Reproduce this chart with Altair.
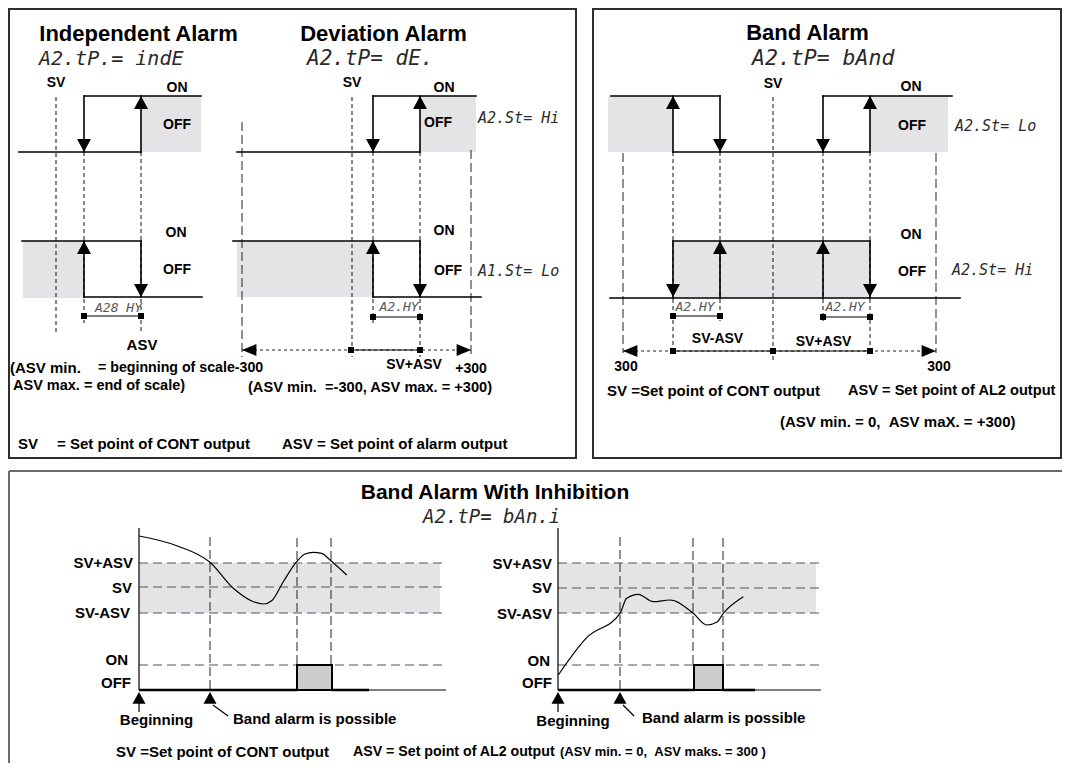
import altair as alt
import pandas as pd

NB = "\u00a0"

# ---------------- data (image pixel coordinates) ----------------
box_rects = [(9, 9, 576, 458), (593, 9, 1061, 458)]
box3_lines = [(9, 471, 1070, 471), (9, 471, 9, 771)]

gray_rects = [
    (141, 96, 201, 152), (23, 241, 84, 298),
    (420, 96, 476, 152), (237, 241, 373, 297),
    (608, 96, 673, 152), (870, 96, 948, 152), (673, 241, 870, 298),
    (139, 563, 440, 613), (558, 563, 816, 613),
]
pulse_rects = [(297, 665, 332, 690), (694, 665, 723, 690)]

step_lines = [
    (19, 152, 141, 152), (141, 152, 141, 96), (84, 96, 201, 96), (84, 96, 84, 152),
    (22, 241, 141, 241), (141, 241, 141, 297), (84, 297, 202, 297), (84, 297, 84, 241),
    (237, 152, 420, 152), (420, 152, 420, 96), (373, 96, 476, 96), (373, 96, 373, 152),
    (233, 241, 420, 241), (420, 241, 420, 297), (373, 297, 481, 297), (373, 297, 373, 241),
    (611, 96, 720, 96), (673, 96, 673, 152), (720, 96, 720, 152), (673, 152, 870, 152),
    (823, 96, 823, 152), (870, 96, 870, 152), (823, 96, 952, 96),
    (673, 241, 870, 241), (610, 298, 960, 298), (673, 241, 673, 298),
    (720, 241, 720, 298), (823, 241, 823, 298), (870, 241, 870, 298),
]
thin_lines = [
    (84, 316, 141, 316), (373, 317, 420, 317), (673, 316, 720, 316), (823, 317, 870, 317),
    (351, 350, 420, 350), (673, 351, 870, 351),
    (139, 528, 139, 690), (558, 528, 558, 690),
    (369, 690, 446, 690), (755, 690, 821, 690),
    (213, 705, 228, 716), (623, 705, 634, 716),
    (139, 700, 139, 712), (558, 700, 558, 712),
]
thick_lines = [(139, 690, 297, 690), (332, 690, 369, 690), (558, 690, 694, 690), (723, 690, 755, 690)]
short_dash = [
    (56, 97, 56, 335), (84, 152, 84, 323), (141, 152, 141, 333),
    (352, 97, 352, 357), (373, 152, 373, 323), (420, 152, 420, 357),
    (673, 152, 673, 353), (720, 152, 720, 321), (773, 97, 773, 360),
    (823, 152, 823, 321), (870, 152, 870, 353),
]
long_dash = [
    (242, 122, 242, 357), (471, 150, 471, 357), (623, 153, 623, 353), (936, 153, 936, 353),
    (210, 537, 210, 690), (297, 538, 297, 665), (331, 538, 331, 665),
    (620, 537, 620, 690), (693, 538, 693, 665), (723, 538, 723, 665),
]
dotted = [(242, 350, 471, 350), (623, 351, 936, 351)]
level_dash = [
    (139, 563, 446, 563), (139, 587, 446, 587), (139, 613, 446, 613), (139, 665, 446, 665),
    (558, 563, 821, 563), (558, 588, 821, 588), (558, 613, 821, 613), (558, 665, 821, 665),
]

curve_left_x = [139.3, 176.7, 210, 233.3, 253.3, 263.3, 271.7, 283.3, 296.7, 305, 313.3, 321.7, 330, 346.7]
curve_left_y = [536, 545.7, 562.3, 588.3, 601.7, 604, 600.7, 581.7, 561.7, 554, 552.3, 553.3, 560, 575]
curve_right_x = [558.3, 586.7, 620, 626.7, 638.3, 653.3, 670, 693.3, 706.7, 716.7, 723.3, 743.3]
curve_right_y = [675, 637.7, 613.3, 598.3, 594.3, 601.7, 600, 613.3, 625, 622.3, 613.3, 596.7]

arrow_down = [(84, 152), (141, 297), (373, 152), (420, 297), (720, 152), (823, 152), (673, 297), (870, 297)]
arrow_up = [(141, 96), (84, 241), (420, 96), (373, 241), (673, 96), (870, 96), (720, 241), (823, 241)]
arrow_left = [(242, 350), (623, 351)]
arrow_right = [(471, 350), (936, 351)]
marker_up = [(139, 692), (210, 692), (558, 692), (620, 692)]
squares = [(84, 316), (141, 316), (373, 317), (420, 317), (351, 350), (420, 350),
           (673, 316), (720, 316), (823, 317), (870, 317), (673, 351), (773, 351), (870, 351)]

titles = [("Independent Alarm", 138.5, 41, 22), ("Deviation Alarm", 383.5, 41, 22),
          ("Band Alarm", 807.5, 40, 22), ("Band Alarm With Inhibition", 495, 499, 21)]
seg_big = [("A2.tP.= indE", 39, 65, 20), ("A2.tP= dE.", 307, 65, 21),
           ("A2.tP= bAnd", 752, 65, 21.5), ("A2.tP= bAn.i", 423, 523, 19)]
seg_mid = [("A2.St= Hi", 478, 123, 15), ("A1.St= Lo", 478, 276, 15),
           ("A2.St= Lo", 955, 131, 15), ("A2.St= Hi", 952, 275, 15)]
seg_small = [("A28 HY", 118.5, 311.5, 13), ("A2.HY", 399, 311, 13),
             ("A2.HY", 695, 311, 13), ("A2.HY", 845, 311, 13)]
labels_center = [
    ("SV", 56, 83, 14), ("ON", 177, 88, 14), ("OFF", 177, 125, 14),
    ("ON", 176, 233, 14), ("OFF", 177, 270, 14), ("ASV", 142, 345, 15),
    ("SV", 352, 83, 14), ("ON", 444, 88, 14), ("OFF", 438, 123, 14),
    ("ON", 444, 231, 14), ("OFF", 448, 270.5, 14), ("SV+ASV", 414, 365, 14), ("+300", 471, 369, 14),
    ("SV", 773, 84, 14), ("ON", 911, 87, 14), ("OFF", 912, 126, 14),
    ("ON", 911, 235, 14), ("OFF", 912, 272, 14), ("SV-ASV", 717.5, 338.5, 14),
    ("SV+ASV", 823.5, 342, 14), ("300", 626, 367, 14), ("300", 939, 367, 14),
    ("Beginning", 156.5, 720, 15), ("Beginning", 573, 721, 15),
]
labels_left = [
    ("(ASV min.", 10, 368, 15), ("= beginning of scale-300", 98, 368, 14.2),
    ("ASV max. = end of scale)", 13, 386, 14.5),
    ("SV", 18, 444, 15), ("= Set point of CONT output", 57, 444, 15),
    ("ASV = Set point of alarm output", 282, 444, 15),
    ("(ASV min." + NB + NB + "=-300, ASV max. = +300)", 248, 387.5, 14.6),
    ("SV =Set point of CONT output", 607, 391, 15), ("ASV = Set point of AL2 output", 848, 391, 14.6),
    ("(ASV min. = 0," + NB + NB + "ASV maX. = +300)", 780, 422, 15),
    ("SV =Set point of CONT output", 116, 752, 15), ("ASV = Set point of AL2 output", 353, 752, 14.2),
    ("(ASV min. = 0," + NB + NB + "ASV maks. = 300 )", 560, 752, 13),
    ("Band alarm is possible", 233, 718.5, 15), ("Band alarm is possible", 642, 717.5, 15),
]
labels_right = [
    ("SV+ASV", 133, 562.5, 15), ("SV", 132, 587.5, 15), ("SV-ASV", 130, 612.5, 15),
    ("ON", 128, 659.5, 15), ("OFF", 131, 682.5, 15),
    ("SV+ASV", 552, 564, 15), ("SV", 552, 588, 15), ("SV-ASV", 552, 613.5, 15),
    ("ON", 550, 661, 15), ("OFF", 552, 683, 15),
]

# ---------------- chart helpers ----------------
XS = alt.Scale(domain=[8, 1062], nice=False, zero=False)
YS = alt.Scale(domain=[8, 763], nice=False, zero=False, reverse=True)
BOLD = "Liberation Sans, Arial, Helvetica, sans-serif"
SEG = "DejaVu Sans Mono, monospace"


def X():
    return alt.X("x:Q", scale=XS, axis=None)


def Y():
    return alt.Y("y:Q", scale=YS, axis=None)


def segdf(rows):
    return pd.DataFrame(rows, columns=["x", "y", "x2", "y2"])


def rules(rows, **mk):
    return alt.Chart(segdf(rows)).mark_rule(**mk).encode(x=X(), y=Y(), x2="x2:Q", y2="y2:Q")


def rects(rows, **mk):
    return alt.Chart(segdf(rows)).mark_rect(**mk).encode(x=X(), y=Y(), x2="x2:Q", y2="y2:Q")


def points(rows, shape, size, mark="point"):
    df = pd.DataFrame(rows, columns=["x", "y"])
    if mark == "square":
        m = alt.Chart(df).mark_square(size=size, color="black", opacity=1)
    else:
        m = alt.Chart(df).mark_point(shape=shape, size=size, filled=True, color="black",
                                     opacity=1, strokeWidth=0)
    return m.encode(x=X(), y=Y())


def texts(rows, align, baseline, font, weight="bold", style="normal", color="#000000"):
    df = pd.DataFrame(rows, columns=["t", "x", "y", "fs"])
    return alt.Chart(df).mark_text(align=align, baseline=baseline, font=font,
                                   fontWeight=weight, fontStyle=style, color=color).encode(
        x=X(), y=Y(), text="t:N", size=alt.Size("fs:Q", scale=None, legend=None))


curve_rows = []
for cid, (xs, ys) in enumerate([(curve_left_x, curve_left_y), (curve_right_x, curve_right_y)]):
    for i, (a, b) in enumerate(zip(xs, ys)):
        curve_rows.append({"x": a, "y": b, "i": i, "c": cid})
curves = alt.Chart(pd.DataFrame(curve_rows)).mark_line(
    interpolate="monotone", color="black", strokeWidth=1.2).encode(
    x=X(), y=Y(), detail="c:N", order="i:Q")

layers = [
    rects(gray_rects, color="#e4e4e6"),
    rects(box_rects, fillOpacity=0, stroke="#2e2e2e", strokeWidth=2),
    rules(box3_lines, color="#6a6a6a", strokeWidth=2),
    rules(level_dash, color="#555555", strokeWidth=1.2, strokeDash=[9, 5]),
    rules(short_dash, color="#111111", strokeWidth=1, strokeDash=[4, 3]),
    rules(long_dash, color="#222222", strokeWidth=1, strokeDash=[9, 4]),
    rules(dotted, color="#222222", strokeWidth=1.2, strokeDash=[3, 3]),
    rects(pulse_rects, color="#cccccc", stroke="black", strokeWidth=2),
    rules(step_lines, color="black", strokeWidth=1.6, strokeCap="square"),
    rules(thin_lines, color="black", strokeWidth=1.2),
    rules(thick_lines, color="black", strokeWidth=2.6),
    curves,
    points(arrow_down, "M0,0L-1,-1.86L1,-1.86Z", 196),
    points(arrow_up, "M0,0L-1,1.86L1,1.86Z", 196),
    points(arrow_left, "M0,0L2.4,-1L2.4,1Z", 144),
    points(arrow_right, "M0,0L-2.4,-1L-2.4,1Z", 144),
    points(marker_up, "M0,0L-1,1.8L1,1.8Z", 169),
    points(squares, None, 36, mark="square"),
    texts(titles, "center", "alphabetic", BOLD),
    texts(seg_big, "left", "alphabetic", SEG, weight="normal", style="italic", color="#2a2a2a"),
    texts(seg_mid, "left", "alphabetic", SEG, weight="normal", style="italic", color="#2a2a2a"),
    texts(seg_small, "center", "alphabetic", SEG, weight="normal", style="italic", color="#555555"),
    texts(labels_center, "center", "middle", BOLD),
    texts(labels_left, "left", "middle", BOLD),
    texts(labels_right, "right", "middle", BOLD),
]

chart = alt.layer(*layers).properties(
    width=1054, height=755, padding=0,
    autosize=alt.AutoSizeParams(type="none"),
).configure_view(strokeWidth=0)

chart.save("out.html", embed_options={"renderer": "svg", "actions": False})
